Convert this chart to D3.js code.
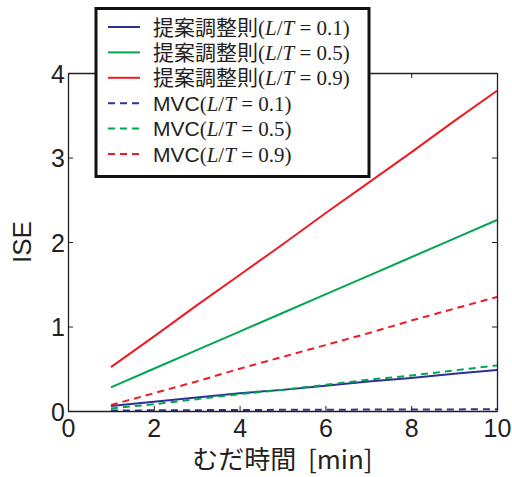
<!DOCTYPE html>
<html>
<head>
<meta charset="utf-8">
<script src="https://cdn.jsdelivr.net/npm/d3@7"></script>
<style>
  html, body { margin: 0; padding: 0; background: #fff; }
  svg { display: block; }
</style>
</head>
<body>
<svg id="chart" width="512" height="477"></svg>
<script>
// ---- data ----
const deadTimes = [1, 2, 3, 4, 5, 6, 7, 8, 9, 10];
const proposed01 = [0.06, 0.11, 0.16, 0.21, 0.25, 0.30, 0.35, 0.39, 0.44, 0.485];
const proposed05 = [0.28, 0.50, 0.72, 0.94, 1.16, 1.38, 1.60, 1.82, 2.04, 2.26];
const proposed09 = [0.52, 0.88, 1.25, 1.61, 1.97, 2.34, 2.70, 3.06, 3.43, 3.79];
const mvc01 = [0.005, 0.008, 0.010, 0.012, 0.014, 0.015, 0.017, 0.018, 0.019, 0.02];
const mvc05 = [0.03, 0.08, 0.14, 0.20, 0.25, 0.31, 0.37, 0.42, 0.48, 0.54];
const mvc09 = [0.07, 0.21, 0.35, 0.50, 0.64, 0.78, 0.92, 1.07, 1.21, 1.35];
const seriesNames = ["提案調整則", "提案調整則", "提案調整則", "MVC", "MVC", "MVC"];
const seriesRatios = ["0.1", "0.5", "0.9", "0.1", "0.5", "0.9"];
const xTicks = [0, 2, 4, 6, 8, 10];
const yTicks = [0, 1, 2, 3, 4];
const xLabel = "むだ時間  [min]";
const yLabel = "ISE";

const colors = ["#2e3192", "#00a651", "#ed1c24", "#2e3192", "#00a651", "#ed1c24"];
const dashed = [false, false, false, true, true, true];
const allValues = [proposed01, proposed05, proposed09, mvc01, mvc05, mvc09];

// ---- layout ----
const svg = d3.select("#chart");
const m = { left: 68, top: 73, right: 497, bottom: 411 };
const x = d3.scaleLinear().domain([0, 10]).range([m.left, m.right]);
const y = d3.scaleLinear().domain([0, 4]).range([m.bottom, m.top]);
const ink = "#231f20";
const sans = "'Liberation Sans', Arial, sans-serif";
const cjk = "'Noto Sans CJK JP', sans-serif";
const serif = "'Liberation Serif', 'Times New Roman', serif";

// lines
const line = d3.line().x((d, i) => x(deadTimes[i])).y(d => y(d));
const order = [3, 4, 5, 0, 1, 2];
const plotG = svg.append("g");
// draw in original order: solid first then dashed (dashed on top)
[0, 1, 2, 3, 4, 5].forEach(k => {
  plotG.append("path")
    .datum(allValues[k])
    .attr("d", line)
    .attr("fill", "none")
    .attr("stroke", colors[k])
    .attr("stroke-width", 2)
    .attr("stroke-dasharray", dashed[k] ? "7,5" : null);
});

// axes (inward ticks on all sides)
function styleAxis(g) {
  g.selectAll("path.domain").attr("stroke", ink).attr("stroke-width", 1.3);
  g.selectAll(".tick line").attr("stroke", ink).attr("stroke-width", 1);
  g.selectAll("text").attr("fill", ink).attr("font-family", sans).attr("font-size", 25);
}
const gx = svg.append("g").attr("transform", `translate(0,${m.bottom})`)
  .call(d3.axisBottom(x).tickValues(xTicks).tickFormat(d3.format("d")).tickSizeInner(-5).tickSizeOuter(0).tickPadding(8));
styleAxis(gx);
gx.selectAll("text").attr("dy", "0.71em");
const gxt = svg.append("g").attr("transform", `translate(0,${m.top})`)
  .call(d3.axisTop(x).tickValues(xTicks).tickFormat("").tickSizeInner(-5).tickSizeOuter(0));
styleAxis(gxt);
const gy = svg.append("g").attr("transform", `translate(${m.left},0)`)
  .call(d3.axisLeft(y).tickValues(yTicks).tickFormat(d3.format("d")).tickSizeInner(-5).tickSizeOuter(0).tickPadding(3));
styleAxis(gy);
gy.selectAll("text").attr("dy", "0.36em");
const gyr = svg.append("g").attr("transform", `translate(${m.right},0)`)
  .call(d3.axisRight(y).tickValues(yTicks).tickFormat("").tickSizeInner(-5).tickSizeOuter(0));
styleAxis(gyr);

// axis labels
svg.append("text")
  .attr("x", (m.left + m.right) / 2).attr("y", 469)
  .attr("text-anchor", "middle")
  .attr("fill", ink).attr("font-size", 26)
  .attr("font-family", cjk)
  .style("white-space", "pre")
  .text(xLabel);
svg.append("text")
  .attr("transform", `translate(31,${(m.top + m.bottom) / 2}) rotate(-90)`)
  .attr("text-anchor", "middle")
  .attr("fill", ink).attr("font-size", 26)
  .attr("font-family", sans)
  .text(yLabel);

// legend
const lg = svg.append("g");
lg.append("rect")
  .attr("x", 96).attr("y", 8.5).attr("width", 273).attr("height", 168)
  .attr("fill", "#fff").attr("stroke", "#111").attr("stroke-width", 3);
const rowY = d3.scaleLinear().domain([0, 5]).range([27, 154]);
seriesNames.forEach((name, k) => {
  const yy = rowY(k);
  lg.append("line")
    .attr("x1", 108).attr("x2", 140).attr("y1", yy).attr("y2", yy)
    .attr("stroke", colors[k]).attr("stroke-width", 2)
    .attr("stroke-dasharray", dashed[k] ? "7,5" : null);
  const t = lg.append("text")
    .attr("x", 153).attr("y", yy + 7.5)
    .attr("fill", ink).attr("font-size", 21)
    .style("white-space", "pre");
  t.append("tspan").attr("font-family", name === "MVC" ? sans : cjk).text(name);
  t.append("tspan").attr("font-family", serif).text("(");
  t.append("tspan").attr("font-family", serif).attr("font-style", "italic").text("L");
  t.append("tspan").attr("font-family", serif).text("/");
  t.append("tspan").attr("font-family", serif).attr("font-style", "italic").text("T");
  t.append("tspan").attr("font-family", serif).text(" = " + seriesRatios[k] + ")");
});
</script>
</body>
</html>
